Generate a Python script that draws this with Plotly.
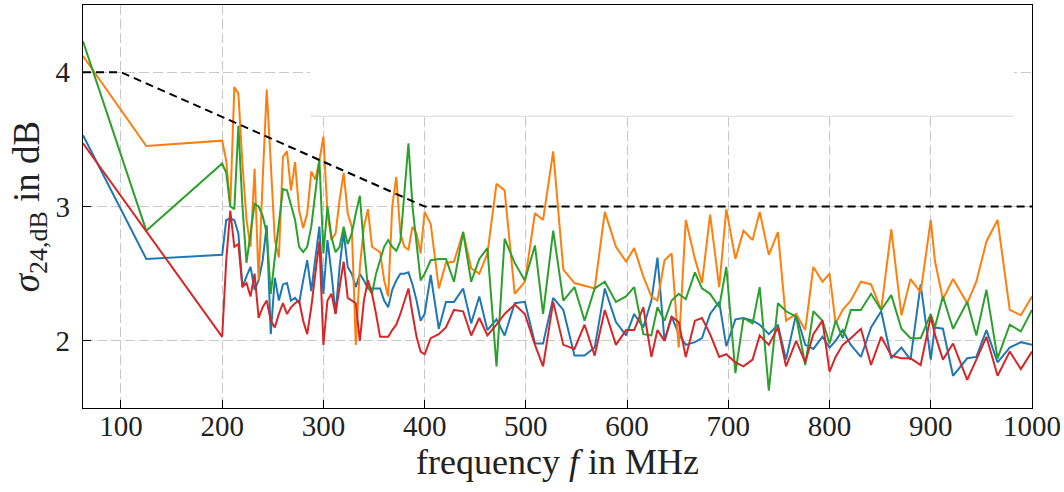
import plotly.graph_objects as go

freq = [62.5, 125, 200,
        204, 208, 212, 216, 220, 224, 228, 232, 236, 240, 244, 248, 252, 256, 260, 264, 268, 272, 276, 280, 284, 288, 292, 296, 300,
        304, 308, 312, 316, 320, 324, 328, 332, 336, 340, 344, 348, 352, 356, 360, 364, 368, 372, 376, 380, 384, 388, 392, 396, 400,
        406, 414, 421, 429, 438, 446, 454, 462, 471, 479, 489, 499, 509, 517, 527,
        537, 548, 558, 568, 578, 589, 599, 607, 616, 624, 630, 637,
        644, 651, 658, 667, 674, 682, 691, 698, 707, 715, 724, 731, 740, 749, 757,
        767, 776, 784, 793, 800, 806, 813, 821, 831, 841, 851, 861, 871, 880, 890, 900, 904, 912, 922, 936, 945, 955, 966, 978, 989, 1000]

blue = [3.53, 2.61, 2.64,
        2.9, 2.91, 2.9, 2.8, 2.4, 2.48, 2.55, 2.38, 2.45, 2.6, 2.86, 2.05, 2.47, 2.3, 2.42, 2.43, 2.3, 2.32, 2.28, 2.45, 2.6, 2.37, 2.6, 2.85, 2.35,
        2.75, 2.5, 2.2, 2.55, 2.81, 2.55, 2.5, 2.4, 2.5, 2.45, 2.39, 2.39, 2.39, 2.39, 2.3, 2.25, 2.38, 2.45, 2.5, 2.5, 2.51, 2.42, 2.3, 2.15, 2.2,
        2.49, 2.09, 2.29, 2.29, 2.39, 2.13, 2.33, 2.08, 2.16, 2.04, 2.28, 2.29, 1.98, 1.98, 2.32,
        2.23, 1.89, 1.89, 1.95, 2.39, 2.14, 2.04, 2.2, 2.1, 2.3, 2.62, 2.0,
        2.18, 2.05, 1.97, 1.99, 2.02, 2.2, 2.29, 1.96, 2.16, 2.17, 2.15, 2.12, 2.05, 2.12, 1.86,
        2.2, 1.97, 1.94, 2.03, 1.95, 2.0, 2.08, 1.97, 1.88, 2.1, 2.22, 1.87, 1.95, 1.86, 2.42, 1.86, 2.1, 2.09, 1.74, 1.87, 1.88, 2.08, 1.84, 1.95, 1.99, 1.97]

orange = [4.12, 3.45, 3.49,
          3.34, 3.0, 3.89, 3.84, 3.32, 2.9, 2.7, 3.28, 2.45, 3.2, 3.87, 3.32, 2.75, 2.62, 3.37, 3.41, 3.12, 3.33, 2.97, 2.84, 2.95, 3.26, 3.2, 3.34, 3.52,
          2.95, 2.75, 2.8, 3.05, 3.25, 2.95, 2.85, 1.97, 2.55, 2.85, 2.98, 2.7, 2.68, 2.66, 2.45, 2.33, 3.0, 3.22, 2.8, 2.7, 2.68, 2.85, 2.8, 2.65, 2.96,
          2.87, 2.39, 2.58, 2.59, 2.81, 2.54, 2.5, 2.65, 3.17, 3.12, 2.35, 2.44, 2.95, 2.9, 3.41,
          2.53, 2.43, 2.41, 2.39, 2.96, 2.7, 2.59, 2.69, 2.48, 2.33, 2.3, 2.6,
          2.65, 1.95, 2.9, 2.61, 2.43, 2.94, 2.4, 2.98, 2.61, 2.82, 2.75, 2.96, 2.64, 2.81, 2.15,
          2.2, 2.08, 2.55, 2.44, 2.5, 2.13, 2.23, 2.3, 2.44, 2.42, 2.23, 2.83, 2.19, 2.46, 2.36, 2.9, 2.6, 2.31, 2.46, 2.28, 2.44, 2.74, 2.9, 2.23, 2.19, 2.33]

green = [4.23, 2.82, 3.32,
         3.25, 3.0, 2.98, 3.6, 3.0, 2.58, 2.8, 3.02, 3.0, 2.93, 2.8, 2.35, 2.62, 2.9, 3.13, 3.12, 3.0, 2.9, 2.7, 2.66, 2.7, 2.85, 3.1, 3.35, 2.65,
         3.0, 2.77, 2.66, 2.7, 2.85, 2.72, 2.8, 2.95, 3.08, 2.7, 2.4, 2.35, 2.5, 2.6, 2.7, 2.75, 2.7, 2.67, 2.74, 3.1, 3.47, 3.0, 2.7, 2.45, 2.5,
         2.6, 2.61, 2.61, 2.44, 2.81, 2.44, 2.61, 2.69, 1.81, 2.76, 2.58, 2.45, 2.71, 2.2, 2.82,
         2.3, 2.4, 2.15, 2.39, 2.44, 2.29, 2.33, 2.4, 2.05, 2.04, 2.25, 2.15,
         2.3, 2.35, 2.31, 2.51, 2.39, 2.35, 2.25, 2.55, 1.76, 2.17, 2.13, 2.4, 1.63, 2.28, 2.22,
         2.18, 1.82, 2.22, 2.15, 1.98, 2.15, 2.02, 2.23, 2.23, 2.35, 2.23, 2.34, 2.09, 2.02, 2.02, 2.2, 2.1, 2.33, 2.09, 2.29, 2.04, 2.38, 1.87, 2.12, 2.07, 2.23]

red = [3.47, None, 2.03,
       2.6, 2.97, 2.7, 2.72, 2.4, 2.43, 2.33, 2.5, 2.17, 2.25, 2.3, 2.15, 2.1, 2.2, 2.28, 2.2, 2.25, 2.28, 2.3, 2.15, 2.05, 2.25, 2.5, 2.74, 1.97,
       2.3, 2.35, 2.2, 2.4, 2.59, 2.32, 2.3, 2.28, 2.0, 2.3, 2.45, 2.35, 2.2, 2.03, 2.03, 2.03, 2.08, 2.12, 2.2, 2.3, 2.39, 2.2, 2.03, 1.92, 1.9,
       2.02, 2.05, 2.1, 2.23, 2.22, 2.04, 2.17, 2.04, 2.12, 2.2, 2.27, 2.2, 1.97, 1.81, 2.29,
       1.97, 1.94, 2.12, 1.89, 2.23, 1.97, 2.08, 2.08, 2.25, 1.88, 2.08, 2.0,
       2.18, 2.14, 1.88, 2.15, 2.17, 2.05, 1.88, 1.9, 1.84, 1.81, 1.86, 2.04, 1.97, 2.1, 1.81,
       2.0, 1.84, 2.05, 2.15, 1.77, 1.88, 1.97, 2.02, 2.09, 1.82, 2.03, 1.89, 1.87, 1.87, 1.82, 2.18, 2.05, 1.86, 1.98, 1.71, 1.86, 2.03, 1.74, 1.92, 1.79, 1.92]

limit_f = [62.5, 100, 400, 1000]
limit_v = [4, 4, 3, 3]

x_ticks = [100, 200, 300, 400, 500, 600, 700, 800, 900, 1000]
y_ticks = [2, 3, 4]

FONT = "Liberation Serif"

fig = go.Figure()
series = [(blue, "#1f77b4"), (orange, "#ff7f0e"), (green, "#2ca02c"), (red, "#d62728")]
for vals, col in series:
    fig.add_trace(go.Scatter(x=freq, y=vals, mode="lines", connectgaps=True,
                             line=dict(color=col, width=2), showlegend=False))
fig.add_trace(go.Scatter(x=limit_f, y=limit_v, mode="lines",
                         line=dict(color="black", width=2, dash="8px,5px"), showlegend=False))

# empty legend-like box at the top
fig.add_shape(type="rect", xref="x", yref="y", x0=287, x1=982, y0=3.672, y1=4.5,
              fillcolor="white", line=dict(width=0), layer="between")
fig.add_shape(type="line", xref="x", yref="y", x0=287, x1=982, y0=3.672, y1=3.672,
              line=dict(color="#d8d8d8", width=1.2), layer="between")

axis_common = dict(showline=True, linecolor="black", linewidth=1.3, mirror=True,
                   ticks="inside", ticklen=8, tickwidth=1.2, tickcolor="black",
                   showgrid=True, gridcolor="#c8c8c8", gridwidth=1, griddash="10px,4px",
                   zeroline=False, automargin=False,
                   tickfont=dict(family=FONT, size=29, color="#222"))

fig.update_xaxes(range=[62.5, 1000], tickvals=x_ticks, ticklabelstandoff=-8,
                 title=dict(text="frequency <i>f</i> in MHz", font=dict(family=FONT, size=36, color="#222"), standoff=5),
                 **axis_common)
fig.update_yaxes(range=[1.5, 4.5], tickvals=y_ticks, ticklabelstandoff=6,
                 title=dict(text="<i>σ</i><sub>24,dB</sub> in dB", font=dict(family=FONT, size=37, color="#222"), standoff=4),
                 **axis_common)

fig.update_layout(width=1064, height=492, margin=dict(l=83, r=32, t=5, b=84),
                  plot_bgcolor="white", paper_bgcolor="white", showlegend=False)

fig.write_html("out.html", config={"displayModeBar": False},
               post_script="document.body.style.margin='0';")
